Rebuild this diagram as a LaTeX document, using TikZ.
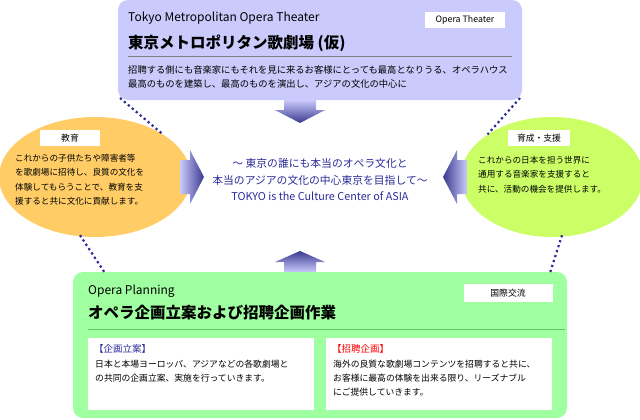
\documentclass[tikz,border=0pt]{standalone}
\usepackage{fontspec}
\setmainfont{Noto Sans CJK JP}
\usetikzlibrary{positioning}
\usetikzlibrary{shapes.geometric}
\definecolor{lavbox}{HTML}{CACAFC}
\definecolor{greenbox}{HTML}{A0FFA0}
\definecolor{orangeball}{HTML}{FFCC66}
\definecolor{limeball}{HTML}{CCFF66}
\definecolor{navy}{HTML}{2A2A99}
\definecolor{arrowdark}{HTML}{3A3A90}
\tikzset{
  tag/.style={fill=white, inner sep=0pt, minimum height=16, font=\fontsize{8.8}{9}\selectfont},
  body/.style={anchor=north west, align=left, font=\fontsize{8.6}{14.5}\selectfont, inner sep=0pt},
  dots/.style={navy, line width=2.2, dash pattern=on 2.2 off 3},
  bigarrow/.style={top color=lavbox, bottom color=arrowdark}
}
\begin{document}
\begin{tikzpicture}[x=1pt, y=-1pt]
  \useasboundingbox (0,0) rectangle (640,420);
  %top box
  \fill[lavbox, rounded corners=10] (118,0) rectangle (522,100);
  \coordinate (tl) at (120,98);
  \coordinate (tr) at (520,98);
  \node[anchor=west, inner sep=0pt, font=\fontsize{12}{12}\selectfont] (toptitle) at (128,18) {Tokyo Metropolitan Opera Theater};
  \node[anchor=west, inner sep=0pt, font=\bfseries\fontsize{15.5}{16}\selectfont] (topjp) at (128,43) {東京メトロポリタン歌劇場 (仮)};
  \draw[gray] (128,56) -- (512,56);
  \node[tag, minimum width=80] (toptag) at (465,20) {Opera Theater};
  \node[body, font=\fontsize{9.3}{14}\selectfont] (toptext) at (128,65) {招聘する側にも音楽家にもそれを見に来るお客様にとっても最高となりうる、オペラハウス\\最高のものを建築し、最高のものを演出し、アジアの文化の中心に};

  %side balls
  \node[ellipse, fill=orangeball, minimum width=192, minimum height=120] (edu) at (95,177) {};
  \node[ellipse, fill=limeball, minimum width=182, minimum height=120] (supp) at (552,177) {};
  \node[tag, minimum width=60] (edutag) at (70,138) {教育};
  \node[tag, minimum width=62] (supptag) at (539,138) {育成・支援};
  \node[body] (edutext) at (15,154) {これからの子供たちや障害者等\\を歌劇場に招待し、良質の文化を\\体験してもらうことで、教育を支\\援すると共に文化に貢献します。};
  \node[body] (supptext) at (478,156) {これからの日本を担う世界に\\通用する音楽家を支援すると\\共に、活動の機会を提供します。};

  %center
  \node[navy, align=center, font=\fontsize{10.8}{16.5}\selectfont] (centre) at (320,180) {～ 東京の誰にも本当のオペラ文化と\\本当のアジアの文化の中心東京を目指して～\\TOKYO is the Culture Center of ASIA};

  %arrows
  \shade[bigarrow] (284,100) -- (316,100) -- (316,110) -- (325,110) -- (300,123) -- (275,110) -- (284,110) -- cycle;
  \shade[bigarrow, shading angle=90] (180,160) -- (190,160) -- (190,150) -- (204,177) -- (190,204) -- (190,194) -- (180,194) -- cycle;
  \shade[bigarrow, shading angle=-90] (467,160) -- (457,160) -- (457,150) -- (443,177) -- (457,204) -- (457,194) -- (467,194) -- cycle;
  \shade[bigarrow, shading angle=180] (284,272) -- (316,272) -- (316,262) -- (325,262) -- (300,251) -- (275,262) -- (284,262) -- cycle;

  %bottom box
  \fill[greenbox, rounded corners=10] (73,272) rectangle (567,418);
  \coordinate (bl) at (105,273);
  \coordinate (br) at (550,273);
  \node[anchor=west, inner sep=0pt, font=\fontsize{12}{12}\selectfont] (bottitle) at (88,291) {Opera Planning};
  \node[anchor=west, inner sep=0pt, font=\bfseries\fontsize{15.5}{16}\selectfont] (botjp) at (88,313) {オペラ企画立案および招聘企画作業};
  \draw[black!40!green!60] (88,329) -- (565,329);
  \node[tag, minimum width=89, minimum height=18] (bottag) at (508,293) {国際交流};
  \fill[white] (88,338) rectangle (314,410);
  \fill[white] (326,338) rectangle (552,410);
  \node[body, navy, font=\fontsize{9.5}{10}\selectfont] (planhead) at (94,344) {【企画立案】};
  \node[body, red, font=\fontsize{9.5}{10}\selectfont] (invhead) at (332,344) {【招聘企画】};
  \node[body, font=\fontsize{8.8}{14}\selectfont] (plantext) at (95,360) {日本と本場ヨーロッパ、アジアなどの各歌劇場と\\の共同の企画立案、実施を行っていきます。};
  \node[body, font=\fontsize{8.8}{14}\selectfont] (invtext) at (333,360) {海外の良質な歌劇場コンテンツを招聘すると共に、\\お客様に最高の体験を出来る限り、リーズナブル\\にご提供していきます。};

  %dotted links
  \draw[dots] (tl) -- (edu.north east) ;
  \draw[dots] (tr) -- (supp.north west);
  \draw[dots] (edu.south) ++(-15,-2) -- (bl);
  \draw[dots] (supp.south) ++(10,-2) -- (br);
\end{tikzpicture}
\end{document}
